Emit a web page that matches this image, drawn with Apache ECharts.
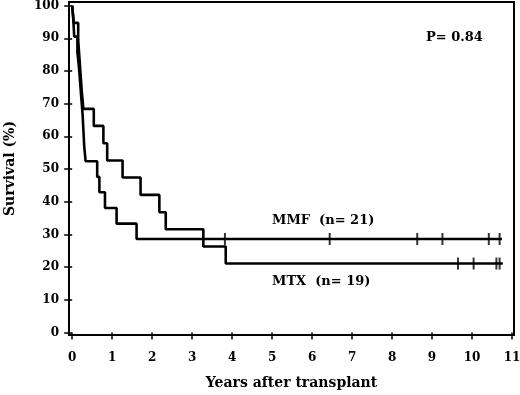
<!DOCTYPE html>
<html>
<head>
<meta charset="utf-8">
<script src="https://cdn.jsdelivr.net/npm/echarts@6/dist/echarts.min.js"></script>
<style>
  html, body { margin: 0; padding: 0; background: #fff; }
  #chart { width: 520px; height: 395px; }
</style>
</head>
<body>
<div id="chart"></div>
<script>
// survival curves (years, %)
var mmfTime = [0, 0.03, 0.05, 0.13, 0.17, 0.2, 0.23, 0.26, 0.28, 0.30, 0.335, 0.625, 0.68, 0.82, 1.11, 1.61, 10.75];
var mmfSurv = [100, 95.2, 90.5, 85.7, 81.0, 76.2, 71.4, 66.7, 61.9, 57.1, 52.4, 47.6, 42.9, 38.1, 33.3, 28.6, 28.6];
var mtxTime = [0, 0.04, 0.15, 0.18, 0.21, 0.24, 0.28, 0.54, 0.78, 0.875, 1.26, 1.71, 2.18, 2.34, 3.28, 3.84, 10.77];
var mtxSurv = [100, 94.7, 89.5, 84.2, 78.9, 73.7, 68.4, 63.2, 57.9, 52.6, 47.4, 42.1, 36.8, 31.6, 26.3, 21.1, 21.1];

// censored patients (years) and the level they sit on
var mmfCensor = [3.82, 6.44, 8.63, 9.26, 10.42, 10.69];
var mmfCensorLevel = 28.6;
var mtxCensor = [9.65, 10.04, 10.61, 10.69];
var mtxCensorLevel = 21.1;

var xTicks = [0, 1, 2, 3, 4, 5, 6, 7, 8, 9, 10, 11];
var yTicks = [0, 10, 20, 30, 40, 50, 60, 70, 80, 90, 100];

function pairs(xs, ys) {
  return xs.map(function (x, i) { return [x, ys[i]]; });
}
function marks(xs, level) {
  return xs.map(function (x) { return [x, level]; });
}

var font = "DejaVu Serif";
var chart = echarts.init(document.getElementById("chart"));
chart.setOption({
  animation: false,
  backgroundColor: "#fff",
  grid: {
    left: 69,
    right: 6,
    top: 2,
    bottom: 60,
    outerBoundsMode: "none",
    containLabel: false,
    show: true,
    borderColor: "#000",
    borderWidth: 2,
  },
  xAxis: {
    type: "value",
    min: -0.08,
    max: 11.05,
    name: "Years after transplant",
    nameLocation: "middle",
    nameGap: 41,
    nameTextStyle: { fontFamily: font, fontWeight: "bold", fontSize: 14, color: "#000" },
    axisLine: { show: false },
    axisTick: {
      show: true,
      length: 7,
      customValues: xTicks,
      lineStyle: { color: "#000", width: 1.5 },
    },
    axisLabel: {
      customValues: xTicks,
      margin: 17,
      fontFamily: font,
      fontWeight: "bold",
      fontSize: 12,
      color: "#000",
    },
    splitLine: { show: false },
  },
  yAxis: {
    type: "value",
    min: -0.76,
    max: 101.1,
    name: "Survival (%)",
    nameLocation: "middle",
    nameGap: 52,
    nameTextStyle: { fontFamily: font, fontWeight: "bold", fontSize: 14, color: "#000" },
    axisLine: { show: false },
    axisTick: {
      show: true,
      length: 8,
      customValues: yTicks,
      lineStyle: { color: "#000", width: 1.5 },
    },
    axisLabel: {
      customValues: yTicks,
      margin: 10,
      fontFamily: font,
      fontWeight: "bold",
      fontSize: 12,
      color: "#000",
    },
    splitLine: { show: false },
  },
  series: [
    {
      name: "MMF",
      type: "line",
      step: "end",
      showSymbol: false,
      lineStyle: { color: "#000", width: 2.6 },
      data: pairs(mmfTime, mmfSurv),
    },
    {
      name: "MTX",
      type: "line",
      step: "end",
      showSymbol: false,
      lineStyle: { color: "#000", width: 2.6 },
      data: pairs(mtxTime, mtxSurv),
    },
    {
      name: "MMF censored",
      type: "scatter",
      symbol: "rect",
      symbolSize: [2, 12],
      itemStyle: { color: "#000" },
      data: marks(mmfCensor, mmfCensorLevel),
    },
    {
      name: "MTX censored",
      type: "scatter",
      symbol: "rect",
      symbolSize: [2, 12],
      itemStyle: { color: "#000" },
      data: marks(mtxCensor, mtxCensorLevel),
    },
  ],
  graphic: [
    {
      type: "text",
      left: 426,
      top: 31,
      style: { text: "P= 0.84", font: "bold 13px " + font, fill: "#000" },
    },
    {
      type: "text",
      left: 272,
      top: 214,
      style: { text: "MMF  (n= 21)", font: "bold 13px " + font, fill: "#000" },
    },
    {
      type: "text",
      left: 272,
      top: 275,
      style: { text: "MTX  (n= 19)", font: "bold 13px " + font, fill: "#000" },
    },
  ],
});
</script>
</body>
</html>
